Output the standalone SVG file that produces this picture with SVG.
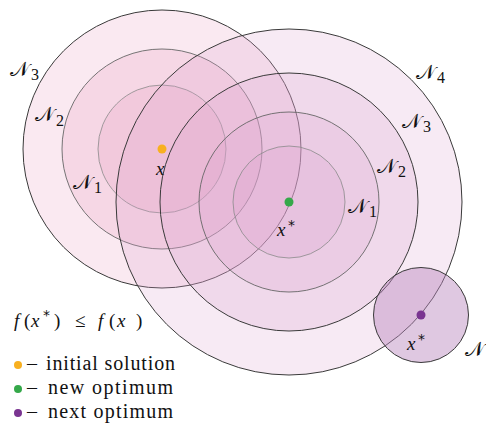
<svg xmlns="http://www.w3.org/2000/svg" width="486" height="423" viewBox="0 0 486 423">
<style>
.lc{fill:#e890b8;fill-opacity:0.2}
.rc{fill:#d9a0cc;fill-opacity:0.22}
.s1{stroke:#8a8a8a;stroke-width:0.8}
.s2{stroke:#666;stroke-width:0.9}
.s3{stroke:#3a3a3a;stroke-width:1}
.N{font-family:"DejaVu Serif","Noto Sans",serif;font-size:20px;fill:#111}
.sub{font-family:"Liberation Serif",serif;font-size:16px;fill:#111}
.mx{font-family:"Liberation Serif",serif;font-style:italic;font-size:19px;fill:#111}
.rm{font-family:"Liberation Serif",serif;font-size:19px;fill:#111}
.st{font-family:"DejaVu Sans",sans-serif;font-size:14px;fill:#111}
.lg{font-family:"Liberation Serif",serif;font-size:20px;fill:#111}
</style>
<rect width="486" height="423" fill="#fff"/>
<g id="left-neighbourhoods">
<circle class="lc s3" cx="162" cy="149" r="139"/>
<circle class="lc s2" cx="162" cy="149" r="100"/>
<circle class="lc s1" cx="162" cy="149" r="64"/>
</g>
<g id="right-neighbourhoods">
<circle class="rc s3" cx="289" cy="202" r="173"/>
<circle class="rc s3" cx="289" cy="202" r="129"/>
<circle class="rc s2" cx="289" cy="202" r="90"/>
<circle class="rc s1" cx="289" cy="202" r="56"/>
</g>
<g id="next-neighbourhood">
<circle cx="421" cy="315" r="47.5" fill="#b784bd" fill-opacity="0.45" stroke="#3a3a3a" stroke-width="1"/>
</g>
<g id="points">
<circle cx="162" cy="149" r="4.5" fill="#f8b020"/>
<circle cx="289" cy="202" r="4.5" fill="#35a84a"/>
<circle cx="421" cy="315" r="4.5" fill="#7a3591"/>
</g>
<g id="labels">
<text class="N" x="10" y="76">𝒩</text><text class="sub" x="31" y="80">3</text>
<text class="N" x="35" y="121">𝒩</text><text class="sub" x="56" y="126">2</text>
<text class="N" x="73" y="189">𝒩</text><text class="sub" x="94" y="193">1</text>
<text class="mx" x="156" y="175">x</text>
<text class="N" x="416" y="79">𝒩</text><text class="sub" x="437" y="83">4</text>
<text class="N" x="402" y="128">𝒩</text><text class="sub" x="423" y="132">3</text>
<text class="N" x="377" y="173">𝒩</text><text class="sub" x="398" y="177">2</text>
<text class="N" x="348" y="213">𝒩</text><text class="sub" x="369" y="217">1</text>
<text class="mx" x="277" y="236">x</text><text class="st" x="288" y="230">*</text>
<text class="mx" x="407" y="350">x</text><text class="st" x="418" y="344">*</text>
<text class="N" x="465" y="356">𝒩</text>
</g>
<g id="legend">
<text class="mx" x="14" y="327">f</text>
<text class="rm" x="24" y="327">(</text>
<text class="mx" x="31" y="327">x</text>
<text class="st" x="43" y="320">*</text>
<text class="rm" x="54" y="327">)</text>
<text class="rm" x="75" y="327">≤</text>
<text class="mx" x="98" y="327">f</text>
<text class="rm" x="109" y="327">(</text>
<text class="mx" x="117" y="327">x</text>
<text class="rm" x="136" y="327">)</text>
<circle cx="18" cy="365" r="4" fill="#f8b020"/>
<circle cx="18" cy="389" r="4" fill="#35a84a"/>
<circle cx="18" cy="413" r="4" fill="#7a3591"/>
<text class="lg" x="27" y="370">–</text>
<text class="lg" x="46" y="370" textLength="129">initial solution</text>
<text class="lg" x="27" y="394">–</text>
<text class="lg" x="48" y="394" textLength="125">new optimum</text>
<text class="lg" x="27" y="418">–</text>
<text class="lg" x="48" y="418" textLength="125">next optimum</text>
</g>
</svg>
